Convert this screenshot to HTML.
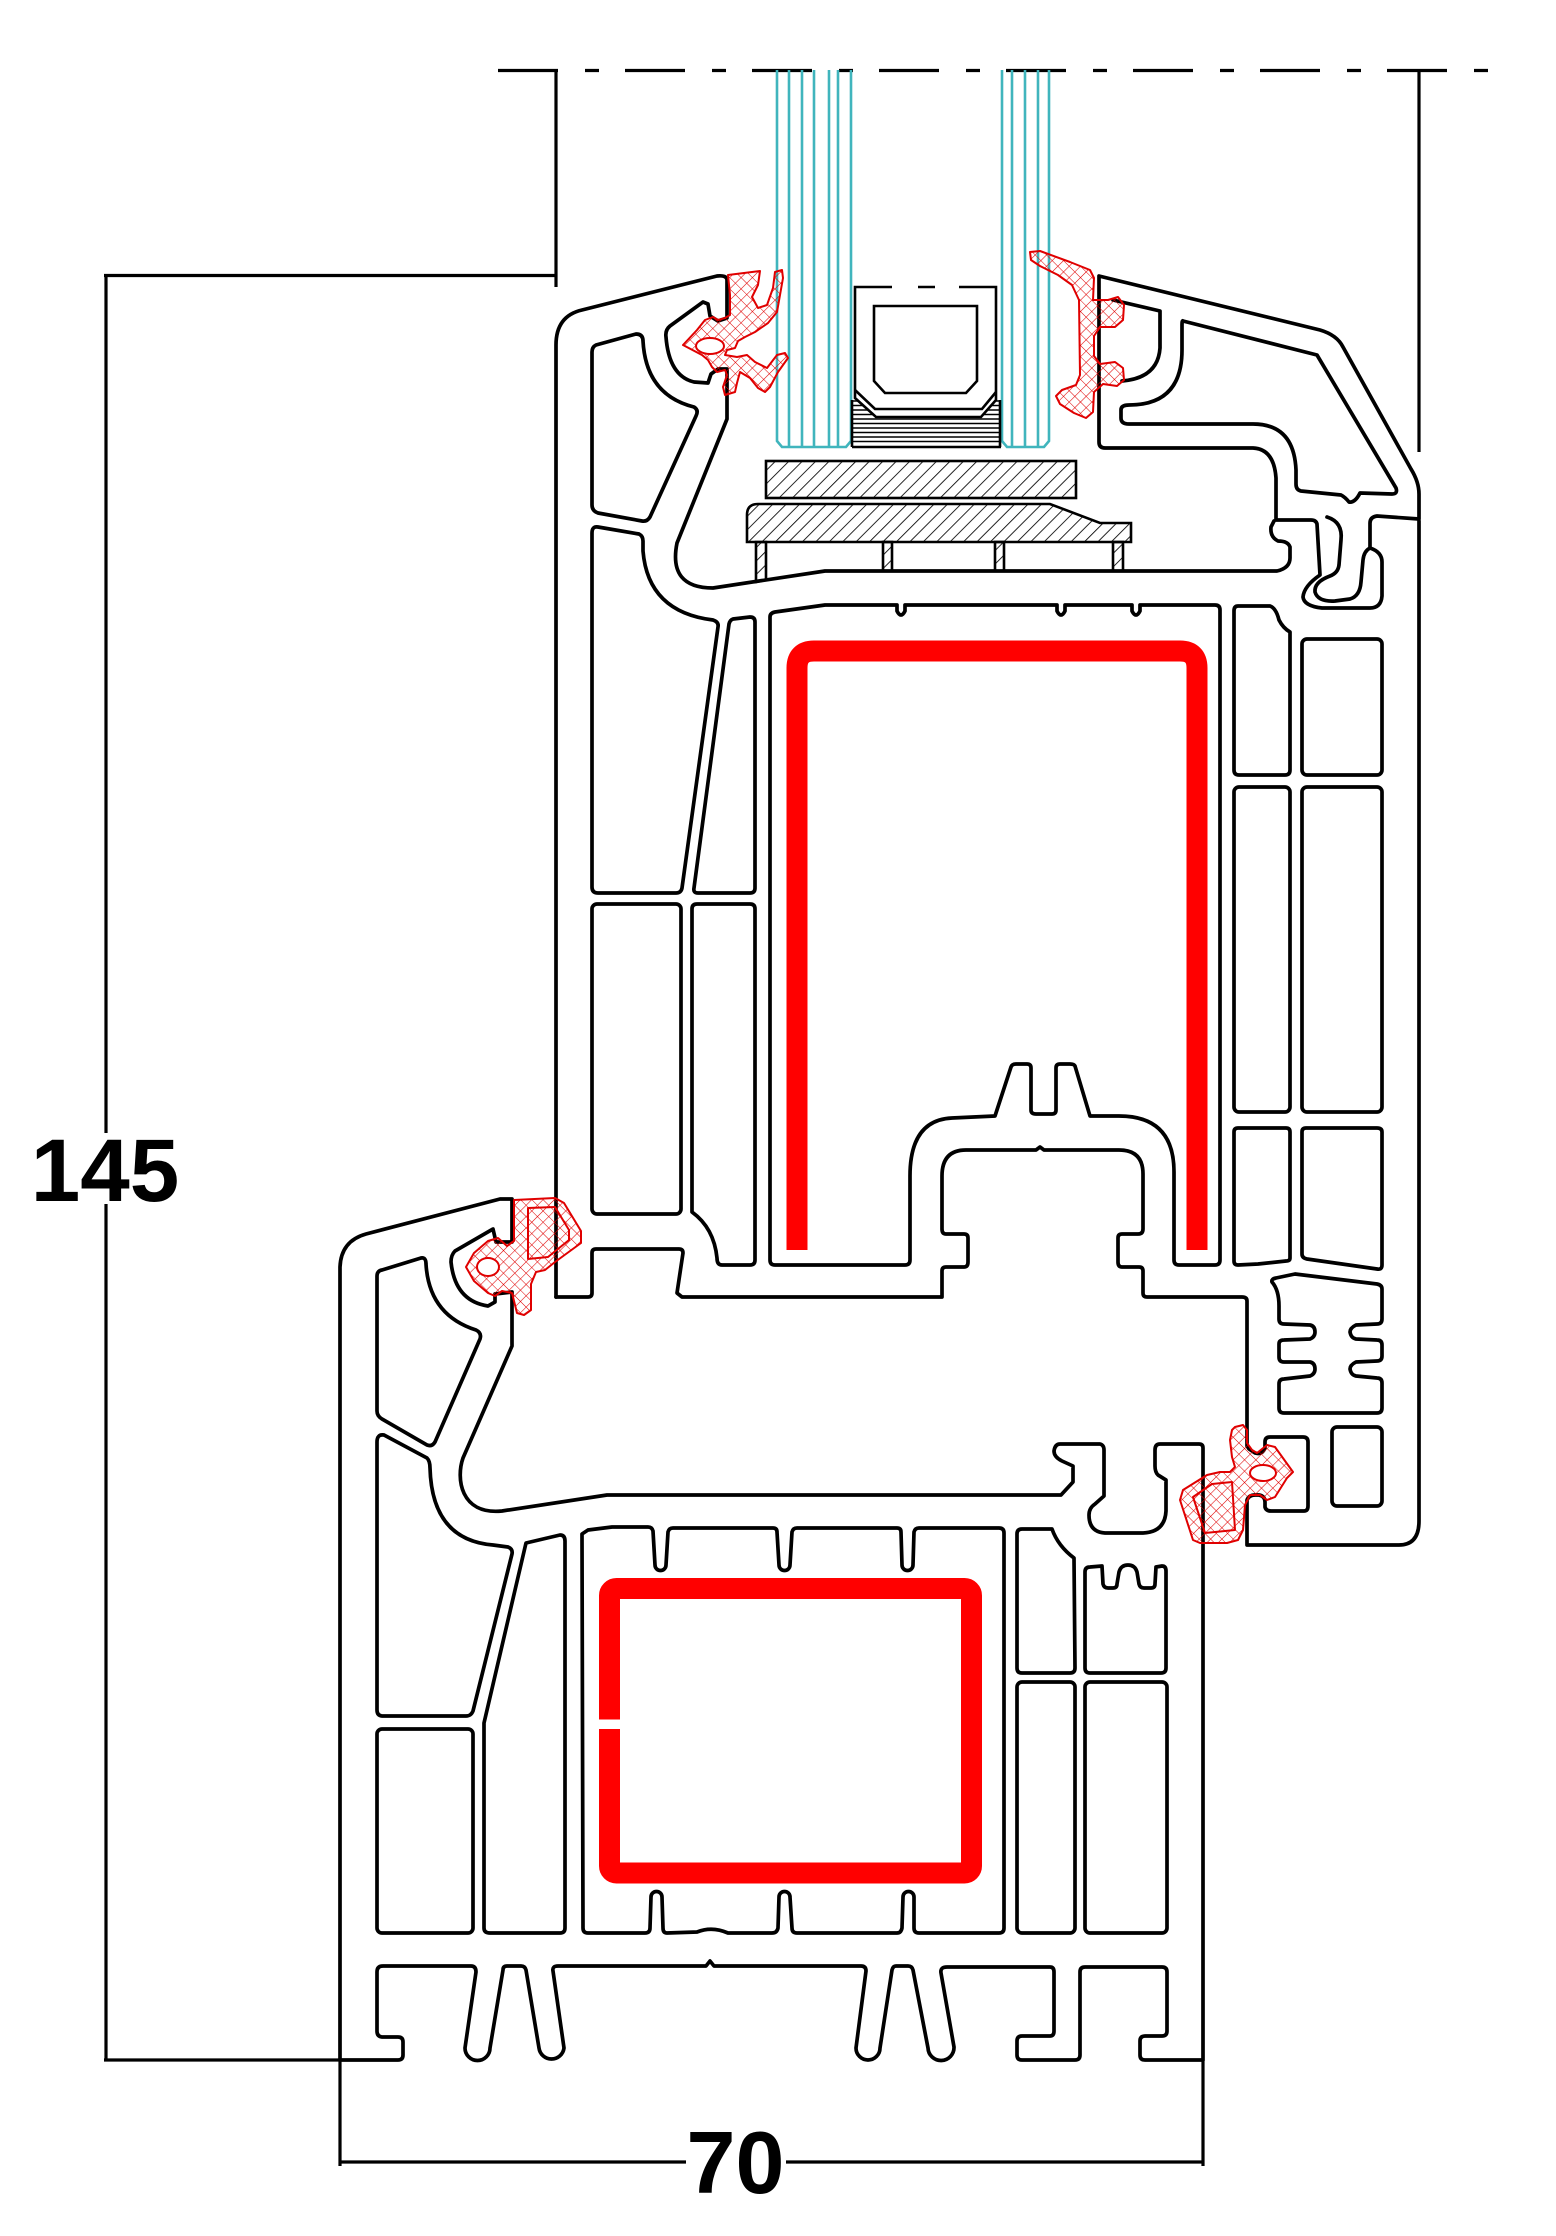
<!DOCTYPE html>
<html>
<head>
<meta charset="utf-8">
<style>
html,body{margin:0;padding:0;background:#fff;}
svg{display:block;}
</style>
</head>
<body>
<svg width="1556" height="2236" viewBox="0 0 1556 2236" xmlns="http://www.w3.org/2000/svg">
<defs>
<pattern id="xh" patternUnits="userSpaceOnUse" width="8" height="8" patternTransform="rotate(45)">
<path d="M0,0 H8 M0,0 V8" stroke="#e00000" stroke-width="1.1" fill="none"/>
</pattern>
<pattern id="dh" patternUnits="userSpaceOnUse" width="9.5" height="9.5" patternTransform="rotate(45)">
<line x1="0" y1="0" x2="0" y2="9.5" stroke="#000" stroke-width="1.7"/>
</pattern>
</defs>
<rect width="1556" height="2236" fill="#fff"/>

<!-- Dimension lines -->
<g stroke="#000" stroke-width="3.2" fill="none">
<line x1="498" y1="70.5" x2="1492" y2="70.5" stroke-dasharray="60 27 14 26"/>
<line x1="556" y1="70" x2="556" y2="287"/>
<line x1="1419" y1="70" x2="1419" y2="452"/>
<line x1="104" y1="275.5" x2="556" y2="275.5"/>
<line x1="106" y1="274" x2="106" y2="1133"/>
<line x1="106" y1="1204" x2="106" y2="2061"/>
<line x1="104" y1="2060" x2="340" y2="2060"/>
<line x1="340" y1="2060" x2="340" y2="2166"/>
<line x1="1203" y1="2060" x2="1203" y2="2166"/>
<line x1="340" y1="2162" x2="686" y2="2162"/>
<line x1="786" y1="2162" x2="1203" y2="2162"/>
</g>
<text x="105" y="1201" font-family="Liberation Sans, Arial, sans-serif" font-weight="bold" font-size="89" text-anchor="middle" fill="#000">145</text>
<text x="735.5" y="2193" font-family="Liberation Sans, Arial, sans-serif" font-weight="bold" font-size="88" text-anchor="middle" fill="#000">70</text>

<!-- Glass -->
<g stroke="#40b5bd" stroke-width="2.6" fill="none">
<path d="M777,70 L777,441 L782,447 L846,447 L851,441 L851,70"/>
<line x1="789" y1="70" x2="789" y2="447"/>
<line x1="802" y1="70" x2="802" y2="447"/>
<line x1="814" y1="70" x2="814" y2="447"/>
<line x1="829" y1="70" x2="829" y2="447"/>
<line x1="838" y1="70" x2="838" y2="447"/>
<path d="M1002,70 L1002,441 L1007,447 L1044,447 L1049,441 L1049,70"/>
<line x1="1012" y1="70" x2="1012" y2="447"/>
<line x1="1025" y1="70" x2="1025" y2="447"/>
<line x1="1038" y1="70" x2="1038" y2="447"/>
</g>

<!-- Spacer sealant lines -->
<g stroke="#000" stroke-width="1.6">
<line x1="853" y1="401" x2="1000" y2="401"/>
<line x1="853" y1="405.5" x2="1000" y2="405.5"/>
<line x1="853" y1="410" x2="1000" y2="410"/>
<line x1="853" y1="414.5" x2="1000" y2="414.5"/>
<line x1="853" y1="419" x2="1000" y2="419"/>
<line x1="853" y1="423.5" x2="1000" y2="423.5"/>
<line x1="853" y1="428" x2="1000" y2="428"/>
<line x1="853" y1="432.5" x2="1000" y2="432.5"/>
<line x1="853" y1="437" x2="1000" y2="437"/>
<line x1="853" y1="441.5" x2="1000" y2="441.5"/>
<line x1="852" y1="447" x2="1001" y2="447" stroke-width="2.6"/>
<line x1="852" y1="400" x2="852" y2="447" stroke-width="2.6"/>
<line x1="1000" y1="400" x2="1000" y2="447" stroke-width="2.6"/>
</g>
<!-- Spacer -->
<path d="M855,287 L996,287 L996,400 L981,417 L876,417 L855,398 Z" fill="#fff" stroke="none"/>
<g stroke="#000" stroke-width="2.6" fill="none">
<path d="M892,287 L855,287 L855,398 L876,417 L981,417 L996,400 L996,287 L959,287"/>
<line x1="918" y1="287" x2="935" y2="287"/>
<path d="M855,390 L875,409 L982,409 L996,392"/>
<path d="M874,306 L977,306 L977,381 L966,393 L885,393 L874,381 Z"/>
</g>

<!-- Glazing blocks -->
<g stroke="#000" stroke-width="2.6">
<rect x="766" y="461" width="310" height="37" fill="url(#dh)"/>
<path d="M747,542 L747,515 Q747,504 758,504 L1050,504 L1100,523 L1131,523 L1131,542 Z" fill="url(#dh)"/>
<path d="M756,542 L766,542 L766,580 L756,582 Z" fill="url(#dh)"/>
<rect x="883" y="542" width="9" height="29" fill="url(#dh)"/>
<rect x="995" y="542" width="9" height="29" fill="url(#dh)"/>
<rect x="1113" y="542" width="10" height="29" fill="url(#dh)"/>
</g>

<!-- Red reinforcements -->
<path d="M797,1250 L797,668 Q797,651 814,651 L1180,651 Q1197,651 1197,668 L1197,1250" fill="none" stroke="#ff0000" stroke-width="21"/>
<rect x="609.5" y="1588.5" width="362" height="284.5" rx="7" fill="none" stroke="#ff0000" stroke-width="21"/>
<rect x="597" y="1719.5" width="26" height="9.5" fill="#fff"/>

<!-- Black profile outlines -->
<g stroke="#000" stroke-width="3.7" fill="none" stroke-linejoin="round" stroke-linecap="round">
<!-- Sash outer contour upper-left -->
<path d="M556,1297 L556,345 Q556,316 582,310 L717,276 Q727,275 727,280 L727,318 L718,321 L710,316 L708,304 L703,302 L670,326 Q665,330 666,337 Q669,376 694,382 L708,383 L711,374 L718,369 L727,369 L727,419 L677,543 Q668,588 713,588 L825,571 L1277,571 Q1290,568 1290,558 L1290,547 Q1288,541 1278,541 Q1270,537 1271,527 L1274,521"/>
<!-- Sash outer contour right and bottom -->
<path d="M1419,521 L1419,1521 Q1419,1545 1399,1545 L1247,1545 L1247,1500 Q1249,1495 1255,1495 L1259,1495 Q1265,1496 1265,1502 L1265,1507 Q1266,1511 1271,1511 L1304,1511 Q1308,1511 1308,1506 L1308,1442 Q1308,1437 1303,1437 L1270,1437 Q1265,1437 1265,1442 L1265,1448 Q1262,1455 1255,1453 L1249,1449 L1247,1446 L1247,1301 Q1247,1297 1242,1297 L1147,1297 Q1143,1297 1143,1293 L1143,1271 Q1143,1267 1139,1267 L1122,1267 Q1118,1267 1118,1262 L1118,1238 Q1118,1234 1122,1234 L1138,1234 Q1143,1234 1143,1229 L1143,1174 Q1143,1150 1119,1150 L1044,1150 L1040,1147 L1036,1150 L966,1150 Q942,1150 942,1176 L942,1229 Q942,1234 946,1234 L964,1234 Q968,1234 968,1238 L968,1262 Q968,1267 964,1267 L946,1267 Q942,1267 942,1271 L942,1297 L682,1297 L677,1293 L683,1253 Q683,1249 679,1249 L596,1249 Q592,1249 592,1253 L592,1293 Q592,1297 588,1297 L556,1297"/>
<!-- Sash main chamber -->
<path d="M775,612 L825,605 L897,605 L897,611 Q901,619 905,611 L905,605 L1057,605 L1057,611 Q1061,619 1065,611 L1065,605 L1132,605 L1132,611 Q1136,619 1140,611 L1140,605 L1215,605 Q1220,605 1220,610 L1220,1260 Q1220,1265 1215,1265 L1179,1265 Q1174,1265 1174,1260 L1174,1172 Q1174,1116 1119,1116 L1090,1116 L1075,1066 Q1074,1064 1070,1064 L1060,1064 Q1056,1064 1056,1068 L1056,1110 Q1056,1114 1052,1114 L1036,1114 Q1031,1114 1031,1110 L1031,1068 Q1031,1064 1027,1064 L1016,1064 Q1012,1064 1011,1067 L995,1116 L952,1118 Q910,1120 910,1176 L910,1260 Q910,1265 905,1265 L775,1265 Q770,1265 770,1260 L770,617 Q770,613 775,612 Z"/>
<!-- Sash left chambers -->
<path d="M596,345 L636,334 Q643,334 643,341 Q646,395 694,407 Q699,410 696,416 L650,517 Q647,522 642,521 L598,513 Q592,511 592,505 L592,352 Q592,347 596,345 Z"/>
<path d="M598,527 L639,534 Q643,536 643,541 L643,551 Q648,612 713,620 Q719,622 718,627 L682,888 Q681,893 676,893 L598,893 Q592,893 592,887 L592,533 Q592,526 598,527 Z"/>
<path d="M733,619 L750,617 Q755,617 755,622 L755,888 Q755,893 750,893 L698,893 Q693,893 694,888 L729,624 Q730,620 733,619 Z"/>
<rect x="592" y="904" width="89" height="310" rx="5"/>
<path d="M697,904 L750,904 Q755,904 755,909 L755,1260 Q755,1265 750,1265 L722,1265 Q717,1265 717,1258 Q714,1228 692,1212 L692,909 Q692,904 697,904 Z"/>
<!-- Glazing bead (right) -->
<path d="M1099,276 L1320,330 Q1337,335 1343,347 L1411,469 Q1419,482 1419,494 L1419,519 L1377,516 Q1370,517 1370,523 L1370,548 Q1382,552 1382,562 L1382,596 Q1381,608 1370,608 L1322,608 Q1304,606 1303,597 Q1304,586 1320,575 L1317,524 Q1316,520 1311,520 L1276,520 L1276,478 Q1274,449 1253,448 L1105,448 Q1099,448 1099,442 Z"/>
<path d="M1113,300 L1160,311 L1160,348 Q1158,378 1122,381"/>
<path d="M1327,517 Q1343,522 1341,540 L1339,565 Q1338,573 1330,576 Q1314,582 1315,592 Q1318,602 1335,601 L1350,599 Q1360,596 1361,582 L1363,560 Q1364,551 1370,548"/>
<path d="M1183,321 L1317,355 L1396,488 Q1398,494 1392,494 L1360,493 Q1355,503 1349,502 Q1345,497 1341,495 L1301,491 Q1296,490 1296,484 L1296,470 Q1294,424 1253,424 L1129,424 Q1121,424 1121,418 L1121,410 Q1121,405 1129,405 Q1182,405 1182,350 L1182,325 Q1182,320 1183,321 Z"/>
<!-- Sash right chambers -->
<path d="M1238,606 L1270,606 Q1276,608 1279,620 Q1283,628 1290,632 L1290,770 Q1290,775 1285,775 L1239,775 Q1234,775 1234,770 L1234,611 Q1234,606 1238,606 Z"/>
<rect x="1302" y="639" width="80" height="136" rx="5"/>
<rect x="1234" y="787" width="56" height="325" rx="5"/>
<rect x="1302" y="787" width="80" height="325" rx="5"/>
<path d="M1238,1128 L1286,1128 Q1290,1128 1290,1132 L1290,1258 Q1290,1261 1286,1261 L1258,1264 L1238,1265 Q1234,1265 1234,1261 L1234,1132 Q1234,1128 1238,1128 Z"/>
<path d="M1306,1128 L1377,1128 Q1382,1128 1382,1132 L1382,1265 Q1382,1270 1377,1269 L1307,1259 Q1302,1258 1302,1254 L1302,1132 Q1302,1128 1306,1128 Z"/>
<path d="M1276,1278 L1295,1274 L1377,1284 Q1382,1285 1382,1289 L1382,1319 Q1382,1324 1377,1324 L1356,1325 Q1350,1328 1350,1332 Q1351,1338 1356,1339 L1377,1340 Q1382,1340 1382,1345 L1382,1356 Q1382,1361 1377,1361 L1356,1362 Q1350,1365 1350,1369 Q1351,1375 1356,1376 L1377,1378 Q1382,1378 1382,1383 L1382,1408 Q1382,1413 1377,1413 L1284,1413 Q1279,1413 1279,1408 L1279,1384 Q1279,1379 1284,1379 L1310,1376 Q1315,1374 1315,1369 Q1315,1363 1310,1362 L1284,1362 Q1279,1362 1279,1357 L1279,1344 Q1279,1340 1284,1340 L1310,1339 Q1315,1337 1315,1332 Q1315,1326 1310,1325 L1284,1324 Q1279,1324 1279,1319 L1279,1306 Q1279,1290 1272,1282 Q1271,1279 1276,1278 Z"/>
<rect x="1332" y="1427" width="50" height="79" rx="5"/>

<!-- Frame outer contour -->
<path d="M340,2060 L340,1267 Q341,1241 366,1234 L500,1199 L512,1199 L512,1242 L496,1242 L493,1229 L455,1251 Q451,1255 451,1262 Q455,1301 488,1306 L495,1302 L495,1294 L512,1292 L512,1346 L463,1458 C456,1478 460,1515 502,1511 L607,1495 L1061,1495 L1073,1482 L1073,1466 L1062,1461 Q1054,1457 1054,1451 Q1055,1444 1060,1444 L1100,1444 Q1104,1445 1104,1450 L1104,1496 L1095,1504 Q1089,1508 1089,1515 Q1089,1532 1105,1533 L1143,1533 Q1165,1532 1166,1511 L1166,1480 L1158,1475 Q1155,1472 1155,1466 L1155,1450 Q1155,1444 1160,1444 L1199,1444 Q1203,1444 1203,1448 L1203,2060 L1145,2060 Q1140,2060 1140,2055 L1140,2041 Q1140,2036 1145,2036 L1162,2036 Q1167,2036 1167,2031 L1167,1972 Q1167,1967 1162,1967 L1085,1967 Q1080,1967 1080,1972 L1080,2055 Q1080,2060 1075,2060 L1022,2060 Q1017,2060 1017,2055 L1017,2041 Q1017,2036 1022,2036 L1050,2036 Q1054,2036 1054,2031 L1054,1972 Q1054,1967 1050,1967 L947,1967 Q940,1967 941,1973 L954,2047 A13,13 0 0 1 928,2048 L913,1970 Q912,1966 908,1966 L896,1966 Q893,1966 892,1970 L880,2048 A12,12 0 0 1 856,2048 L866,1971 Q866,1966 861,1966 L714,1966 L710,1961 L706,1966 L558,1966 Q552,1966 553,1971 L564,2048 A12.6,12.6 0 0 1 539,2048 L526,1970 Q525,1966 521,1966 L507,1966 Q503,1966 503,1970 L490,2048 A12.5,12.5 0 0 1 465,2048 L476,1972 Q476,1966 471,1966 L383,1966 Q377,1966 377,1972 L377,2031 Q377,2037 383,2037 L398,2037 Q403,2037 403,2042 L403,2055 Q403,2060 398,2060 Z"/>
<!-- Frame chambers -->
<path d="M382,1270 L421,1258 Q426,1257 426,1264 Q429,1315 476,1330 Q482,1333 480,1339 L435,1442 Q432,1447 427,1445 L382,1419 Q377,1416 377,1411 L377,1276 Q377,1271 382,1270 Z"/>
<path d="M384,1435 L427,1458 Q430,1461 430,1468 Q432,1540 493,1545 L508,1547 Q513,1549 512,1554 L473,1711 Q471,1716 466,1716 L383,1716 Q377,1716 377,1710 L377,1442 Q377,1434 384,1435 Z"/>
<path d="M526,1543 L560,1535 Q565,1535 565,1541 L565,1928 Q565,1933 560,1933 L490,1933 Q484,1933 484,1928 L484,1723 Z"/>
<rect x="377" y="1729" width="96" height="204" rx="5"/>
<path d="M582,1534 L588,1530 L612,1527 L648,1527 Q652,1527 653,1531 L655,1565 A5.5,5.5 0 0 0 666,1565 L668,1532 Q669,1528 673,1528 L773,1528 Q777,1528 777,1532 L779,1565 A5.5,5.5 0 0 0 790,1565 L792,1532 Q793,1528 797,1528 L897,1528 Q901,1528 901,1532 L902,1565 A5.5,5.5 0 0 0 913,1565 L914,1532 Q915,1528 919,1528 L999,1528 Q1004,1528 1004,1533 L1004,1928 Q1004,1933 999,1933 L919,1933 Q914,1933 914,1928 L914,1897 A5.5,5.5 0 0 0 903,1897 L902,1928 Q901,1933 897,1933 L797,1933 Q792,1933 792,1928 L790,1897 A5.5,5.5 0 0 0 779,1897 L778,1928 Q777,1933 772,1933 L728,1933 Q712,1926 697,1932 L667,1933 Q663,1933 663,1928 L662,1897 A5.5,5.5 0 0 0 651,1897 L650,1928 Q650,1933 645,1933 L588,1933 Q583,1933 583,1928 Z"/>
<path d="M1022,1529 L1052,1529 Q1058,1546 1074,1558 L1075,1668 Q1075,1673 1070,1673 L1022,1673 Q1017,1673 1017,1668 L1017,1534 Q1017,1529 1022,1529 Z"/>
<path d="M1090,1567 L1102,1566 L1103,1584 Q1104,1588 1108,1588 L1113,1588 Q1117,1588 1117,1584 L1119,1572 Q1121,1565 1128,1565 Q1135,1565 1137,1572 L1139,1584 Q1140,1588 1144,1588 L1151,1588 Q1155,1588 1155,1584 L1156,1567 L1162,1566 Q1166,1566 1166,1571 L1166,1668 Q1166,1673 1161,1673 L1090,1673 Q1085,1673 1085,1668 L1085,1572 Q1085,1567 1090,1567 Z"/>
<rect x="1017" y="1682" width="58" height="251" rx="5"/>
<rect x="1085" y="1682" width="82" height="251" rx="5"/>
</g>

<!-- Red seals (hatched) -->
<g stroke="#e00000" stroke-width="2" fill="url(#xh)" stroke-linejoin="round">
<polygon points="728,275 760,271 758,285 752,297 758,308 767,305 773,288 775,272 782,270 783,278 777,312 768,323 755,332 745,337 738,341 735,348 727,350 725,355 737,357 747,355 755,362 767,368 777,355 785,353 788,358 778,372 770,387 765,392 758,388 750,378 740,372 737,383 735,392 725,395 723,387 727,375 725,370 717,372 712,367 708,360 702,355 683,345 697,330 705,320 713,317 718,320 725,318 730,315 730,295"/>
<ellipse cx="710" cy="346" rx="14" ry="8" fill="#fff"/>
<polygon points="1030,252 1040,251 1070,262 1090,270 1094,278 1093,300 1108,300 1118,297 1124,305 1123,320 1115,327 1100,327 1094,336 1094,356 1100,364 1115,362 1123,368 1124,380 1117,386 1103,384 1094,392 1093,412 1086,418 1074,413 1060,404 1056,396 1062,390 1076,385 1080,375 1079,300 1072,285 1058,275 1040,266 1031,260"/>
<polygon points="514,1200 555,1198 564,1203 581,1231 581,1243 555,1262 545,1270 536,1272 531,1284 531,1310 524,1315 517,1313 512,1293 502,1291 495,1296 488,1293 474,1281 466,1267 474,1253 488,1241 498,1238 507,1246 514,1241"/>
<ellipse cx="488" cy="1267" rx="11" ry="9" fill="#fff"/>
<path d="M528,1208 L555,1207 L569,1230 L569,1240 L548,1257 L528,1259 Z" fill="none"/>
<polygon points="1235,1427 1243,1425 1247,1430 1247,1443 1252,1450 1257,1453 1267,1445 1275,1447 1293,1472 1287,1478 1275,1497 1267,1500 1260,1495 1250,1495 1245,1505 1243,1530 1238,1540 1227,1543 1200,1543 1193,1540 1180,1500 1183,1490 1207,1475 1220,1472 1230,1472 1235,1467 1232,1457 1230,1440 1232,1430"/>
<ellipse cx="1263" cy="1473" rx="13" ry="8" fill="#fff"/>
<path d="M1193,1497 L1212,1484 L1232,1482 L1235,1530 L1205,1533 Z" fill="none"/>
</g>
</svg>
</body>
</html>
